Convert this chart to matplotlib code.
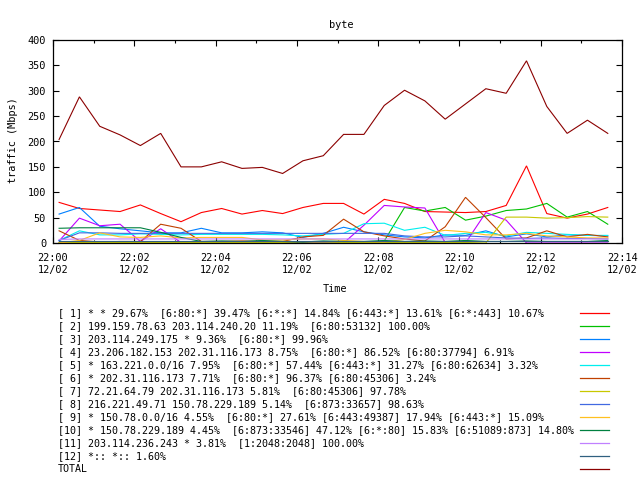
import matplotlib
matplotlib.use("Agg")
import matplotlib.pyplot as plt
from matplotlib.lines import Line2D
from matplotlib.ticker import MultipleLocator

plt.rcParams['font.family'] = ['DejaVu Sans Mono']

times = ["22:00:09", "22:00:39", "22:01:09", "22:01:39", "22:02:09", "22:02:39", "22:03:09",
         "22:03:39", "22:04:09", "22:04:39", "22:05:09", "22:05:39", "22:06:09", "22:06:39",
         "22:07:09", "22:07:39", "22:08:09", "22:08:39", "22:09:09", "22:09:39", "22:10:09",
         "22:10:39", "22:11:09", "22:11:39", "22:12:09", "22:12:39", "22:13:09", "22:13:39"]

s1 = [80, 68, 65, 62, 75, 58, 42, 60, 68, 57, 64, 58, 70, 78, 78, 57, 86, 78, 62, 61, 60, 62, 74, 152, 58, 49, 57, 70]
s2 = [0, 0, 0, 0, 0, 0, 0, 0, 0, 0, 0, 0, 0, 0, 0, 0, 4, 70, 63, 70, 45, 53, 64, 67, 78, 51, 62, 37]
s3 = [57, 70, 33, 28, 24, 20, 20, 29, 20, 20, 22, 20, 11, 19, 31, 22, 16, 12, 10, 16, 15, 24, 12, 18, 12, 16, 15, 14]
s4 = [4, 49, 34, 37, 3, 28, 1, 0, 0, 0, 0, 0, 0, 0, 0, 35, 74, 71, 69, 1, 0, 60, 45, 0, 0, 0, 0, 0]
s5 = [5, 24, 16, 16, 18, 17, 16, 17, 17, 17, 17, 16, 14, 17, 19, 38, 39, 25, 31, 15, 19, 21, 14, 21, 19, 17, 15, 15]
s6 = [24, 5, 2, 3, 3, 37, 29, 3, 3, 4, 3, 3, 12, 15, 47, 22, 14, 8, 4, 32, 90, 50, 8, 10, 24, 12, 17, 12]
s7 = [1, 1, 1, 1, 1, 1, 1, 1, 1, 1, 1, 1, 2, 2, 1, 1, 1, 1, 1, 1, 1, 0, 51, 51, 49, 50, 52, 51]
s8 = [5, 20, 20, 19, 19, 19, 19, 19, 19, 19, 19, 19, 19, 19, 19, 19, 19, 14, 12, 12, 14, 12, 10, 9, 10, 9, 9, 8]
s9 = [0, 5, 20, 12, 11, 14, 10, 11, 11, 11, 6, 6, 8, 8, 5, 3, 2, 7, 19, 25, 22, 16, 16, 19, 14, 12, 10, 10]
s10 = [29, 30, 30, 30, 30, 21, 11, 3, 4, 3, 5, 3, 2, 4, 3, 3, 5, 3, 4, 3, 5, 3, 3, 4, 3, 3, 3, 5]
s11 = [7, 8, 8, 8, 8, 8, 8, 8, 8, 8, 8, 8, 8, 8, 8, 8, 8, 8, 8, 8, 8, 8, 8, 8, 8, 8, 8, 8]
s12 = [3, 3, 3, 3, 3, 3, 3, 3, 3, 3, 3, 3, 3, 3, 3, 3, 3, 3, 3, 3, 3, 3, 3, 3, 3, 3, 3, 3]
total = [204, 288, 230, 213, 192, 216, 150, 150, 160, 147, 149, 137, 162, 172, 214, 214, 271, 301, 280, 244, 274, 304, 295, 359, 269, 216, 242, 216]

series = [s1, s2, s3, s4, s5, s6, s7, s8, s9, s10, s11, s12, total]

legend_labels = [
    "[ 1] * * 29.67%  [6:80:*] 39.47% [6:*:*] 14.84% [6:443:*] 13.61% [6:*:443] 10.67%",
    "[ 2] 199.159.78.63 203.114.240.20 11.19%  [6:80:53132] 100.00%",
    "[ 3] 203.114.249.175 * 9.36%  [6:80:*] 99.96%",
    "[ 4] 23.206.182.153 202.31.116.173 8.75%  [6:80:*] 86.52% [6:80:37794] 6.91%",
    "[ 5] * 163.221.0.0/16 7.95%  [6:80:*] 57.44% [6:443:*] 31.27% [6:80:62634] 3.32%",
    "[ 6] * 202.31.116.173 7.71%  [6:80:*] 96.37% [6:80:45306] 3.24%",
    "[ 7] 72.21.64.79 202.31.116.173 5.81%  [6:80:45306] 97.78%",
    "[ 8] 216.221.49.71 150.78.229.189 5.14%  [6:873:33657] 98.63%",
    "[ 9] * 150.78.0.0/16 4.55%  [6:80:*] 27.61% [6:443:49387] 17.94% [6:443:*] 15.09%",
    "[10] * 150.78.229.189 4.45%  [6:873:33546] 47.12% [6:*:80] 15.83% [6:51089:873] 14.80%",
    "[11] 203.114.236.243 * 3.81%  [1:2048:2048] 100.00%",
    "[12] *:: *:: 1.60%",
    "TOTAL",
]

colors = ["#ff0000", "#00c000", "#0080ff", "#c000ff", "#00eeee", "#c04000", "#c8c800",
          "#4169e1", "#ffc020", "#008040", "#c080ff", "#306080", "#8b0000"]

x_ticks = [0, 2, 4, 6, 8, 10, 12, 14]
x_tick_labels = ["22:00\n12/02", "22:02\n12/02", "22:04\n12/02", "22:06\n12/02",
                 "22:08\n12/02", "22:10\n12/02", "22:12\n12/02", "22:14\n12/02"]


def to_minutes(t):
    h, m, s = (int(v) for v in t.split(":"))
    return (h - 22) * 60 + m + s / 60.0


xs = [to_minutes(t) for t in times]

W, H = 640, 480
fig = plt.figure(figsize=(6.4, 4.8), dpi=100)
ax = fig.add_axes([53 / W, 1 - 243 / H, (622 - 53) / W, (243 - 40) / H])

for vals, c in zip(series, colors):
    ax.plot(xs, vals, color=c, lw=0.8, solid_joinstyle='miter')

ax.set_xlim(0, 14)
ax.set_ylim(0, 400)
ax.set_xticks(x_ticks)
ax.set_xticklabels(x_tick_labels, linespacing=1.2)
ax.xaxis.set_minor_locator(MultipleLocator(1))
ax.yaxis.set_major_locator(MultipleLocator(50))
ax.tick_params(axis='both', which='major', direction='in', length=4, width=0.8,
               top=True, right=True, labelsize=7.4)
ax.tick_params(axis='both', which='minor', direction='in', length=2.5, width=0.8,
               top=True, right=True)
ax.tick_params(axis='x', pad=7.5)
ax.tick_params(axis='y', pad=5)
for sp in ax.spines.values():
    sp.set_linewidth(0.9)

fig.text(341 / W, 1 - 25 / H, "byte", ha='center', va='center', fontsize=7.4)
fig.text(13 / W, 1 - 140 / H, "traffic (Mbps)", ha='center', va='center',
         rotation=90, fontsize=7.4)
fig.text(335 / W, 1 - 289 / H, "Time", ha='center', va='center', fontsize=7.4)

for i, (lab, c) in enumerate(zip(legend_labels, colors)):
    yy = 1 - (313 + 13 * i) / H
    fig.text(58 / W, yy, lab, ha='left', va='center', fontsize=7.2)
    fig.add_artist(Line2D([580 / W, 609 / W], [yy, yy], color=c, lw=0.9,
                          transform=fig.transFigure))

fig.savefig("out.png", dpi=100)
